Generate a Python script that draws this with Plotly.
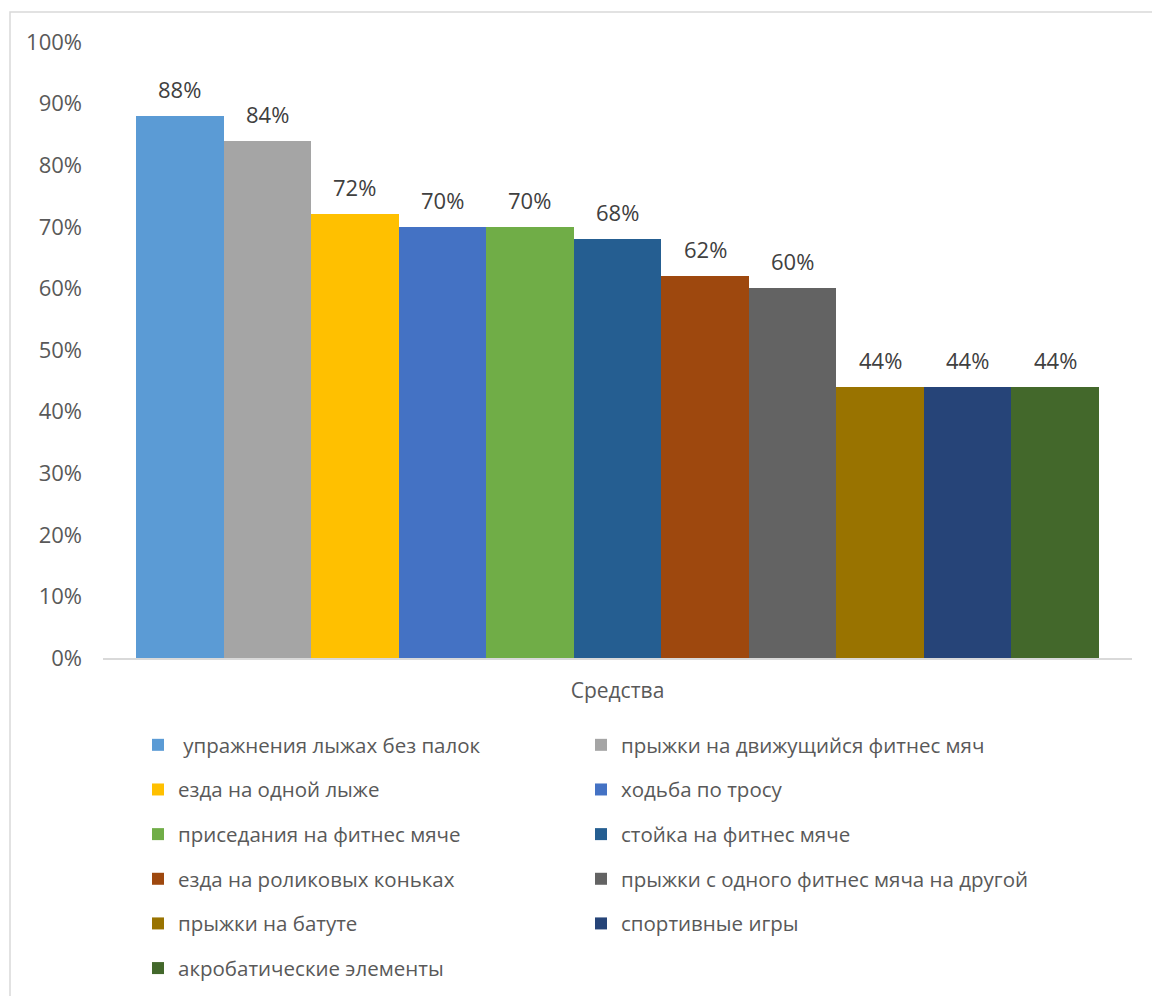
import plotly.graph_objects as go

names = [
    " упражнения лыжах без палок",
    "прыжки на движущийся фитнес мяч",
    "езда на одной лыже",
    "ходьба по тросу",
    "приседания на фитнес мяче",
    "стойка на фитнес мяче",
    "езда на роликовых коньках",
    "прыжки с одного фитнес мяча на другой",
    "прыжки на батуте",
    "спортивные игры",
    "акробатические элементы",
]
values = [0.88, 0.84, 0.72, 0.70, 0.70, 0.68, 0.62, 0.60, 0.44, 0.44, 0.44]
colors = ["#5B9BD5", "#A5A5A5", "#FFC000", "#4472C4", "#70AD47", "#255E91",
          "#9E480E", "#636363", "#997300", "#264478", "#43682B"]
y_ticks = [0, 0.1, 0.2, 0.3, 0.4, 0.5, 0.6, 0.7, 0.8, 0.9, 1.0]
x_title = "Средства"

FONT = "Open Sans"
W, H = 1152, 996
ml, mr, mt, mb = 103, 20, 42, 338
PW, PH = W - ml - mr, H - mt - mb

fig = go.Figure()
for i, (n, v, c) in enumerate(zip(names, values, colors)):
    fig.add_trace(go.Bar(
        x=[i], y=[v], name=n, marker=dict(color=c, line=dict(width=0)),
        legend="legend" if i % 2 == 0 else "legend2",
        legendgroup=f"g{i}",
        hoverinfo="name+y",
    ))
    fig.add_annotation(
        x=i, y=v, text=f"{round(v*100)}%", showarrow=False,
        yanchor="bottom", yshift=10,
        font=dict(family=FONT, size=22, color="#404040"),
    )

legend_common = dict(
    yref="container", xref="container",
    y=1 - 725 / H, yanchor="top", xanchor="left",
    orientation="v", traceorder="grouped", tracegroupgap=15,
    font=dict(family=FONT, size=20.5, color="#595959"),
    bgcolor="rgba(0,0,0,0)",
)

fig.update_layout(
    width=W, height=H,
    margin=dict(l=ml, r=mr, t=mt, b=mb, autoexpand=False),
    paper_bgcolor="white", plot_bgcolor="white",
    barmode="overlay", bargap=0,
    font=dict(family=FONT, color="#595959"),
    xaxis=dict(
        range=[-0.877, len(values) - 1 + 0.877],
        showticklabels=False, showgrid=False, zeroline=False,
        showline=True, linecolor="#D9D9D9", linewidth=1.5,
        title=dict(text=x_title, font=dict(family=FONT, size=21, color="#595959"), standoff=25),
        fixedrange=True,
    ),
    yaxis=dict(
        range=[0, 1.0], tickvals=y_ticks,
        ticktext=[f"{round(t*100)}%" for t in y_ticks],
        tickfont=dict(family=FONT, size=22, color="#595959"),
        showgrid=False, zeroline=False, showline=False,
        ticks="", ticklabelstandoff=20,
    ),
    legend=dict(legend_common, x=138 / W),
    legend2=dict(legend_common, x=581 / W),
    shapes=[dict(
        type="rect", xref="paper", yref="paper",
        x0=(10 - ml) / PW, x1=(1170 - ml) / PW,
        y0=(658 - 1010) / PH, y1=(658 - 12) / PH,
        line=dict(color="#D9D9D9", width=1.5), fillcolor="rgba(0,0,0,0)",
        layer="below",
    )],
)

fig.write_html("out.html")
